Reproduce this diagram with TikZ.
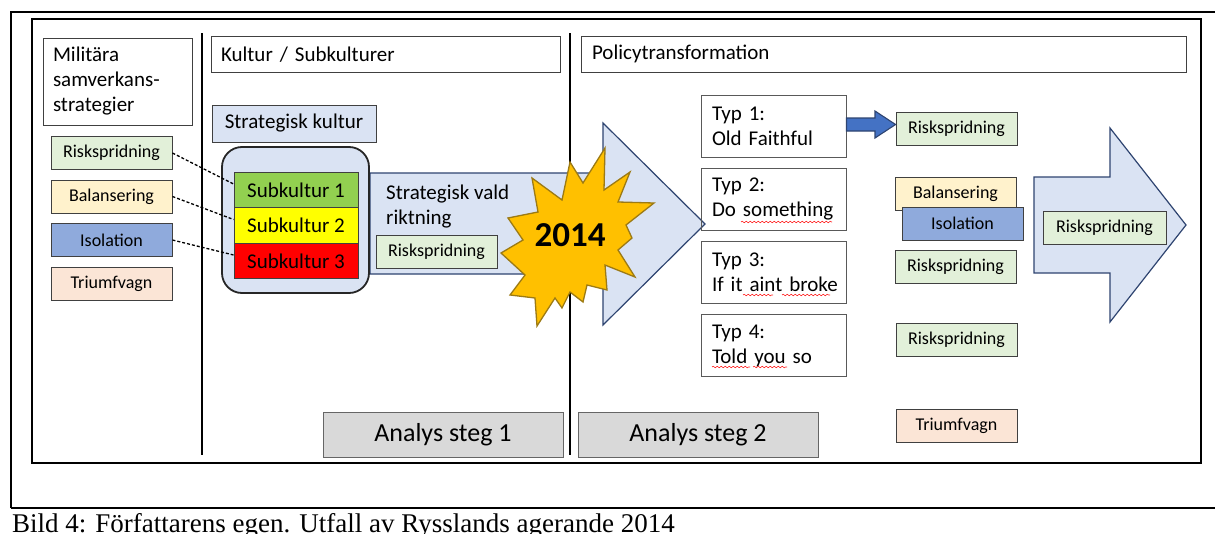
\documentclass[tikz,border=0pt]{standalone}
\usepackage{fontspec}
\setmainfont{Carlito}
\newfontfamily\captionfont{Liberation Serif}
\usepackage{tikz}
\usetikzlibrary{decorations.pathmorphing}
\definecolor{skblue}{HTML}{DAE3F3}
\definecolor{skedge}{HTML}{2E4470}
\definecolor{riskgreen}{HTML}{E2F0D9}
\definecolor{balyellow}{HTML}{FFF2CC}
\definecolor{isoblue}{HTML}{8FAADC}
\definecolor{tripeach}{HTML}{FBE5D6}
\definecolor{subgreen}{HTML}{92D050}
\definecolor{subyellow}{HTML}{FFFF00}
\definecolor{subred}{HTML}{FF0000}
\definecolor{stargold}{HTML}{FFC000}
\definecolor{staredge}{HTML}{9C7A14}
\definecolor{arrowblue}{HTML}{4472C4}
\definecolor{stepgray}{HTML}{D9D9D9}

\tikzset{
  plainbox/.style={draw=black!75, line width=0.9pt, inner sep=0pt},
  titlebox/.style={plainbox, font=\fontsize{21}{25}\selectfont, align=left},
  smallbox/.style={plainbox, minimum width=121pt, minimum height=33pt, font=\fontsize{18}{21}\selectfont},
  subbox/.style={plainbox, minimum width=124pt, minimum height=35.5pt, font=\fontsize{21}{25}\selectfont},
  typbox/.style={plainbox, draw=black!65, inner xsep=11pt, minimum width=145pt, minimum height=62pt, text width=123pt, align=left, font=\fontsize{21}{25}\selectfont},
  stepbox/.style={plainbox, draw=black!60, fill=stepgray, minimum width=240pt, minimum height=45pt, font=\fontsize{26}{30}\selectfont},
  blockarrow/.style={draw=skedge, line width=1.2pt, fill=skblue, line join=miter},
  connector/.style={line width=1.3pt, dash pattern=on 3pt off 2pt},
  squiggle/.style={red!85, line width=0.6pt, decorate, decoration={snake, amplitude=0.8pt, segment length=4pt}}
}

\begin{document}
\begin{tikzpicture}[x=1pt, y=-1pt]
\useasboundingbox (0,0) rectangle (1215,533);

% frames and columns
\draw[line width=1.6pt] (1216,12) -- (11,12) -- (11,508);
\draw[line width=2.6pt] (11,508) -- (1216,508);
\draw[line width=2pt] (32,19) rectangle (1201,463);
\draw[line width=1.5pt] (202,33) -- (202,455);
\draw[line width=1.5pt] (570,33) -- (570,455);

% column headings
\node[titlebox, minimum width=149pt, minimum height=87pt, text width=129pt] (mil) at (117.5,81.5) {Militära\\samverkans-\\strategier};
\node[titlebox, minimum width=349pt, minimum height=36pt, text width=329pt] (kultur) at (385.5,54.5) {Kultur / Subkulturer};
\node[titlebox, minimum width=605pt, minimum height=36pt, text width=583pt] (policy) at (883.5,54) {Policytransformation};

% left column strategies
\foreach \name/\txt/\col/\y in {lrisk/Riskspridning/riskgreen/153,
                               lbal/Balansering/balyellow/196.5,
                               liso/Isolation/isoblue/240,
                               ltri/Triumfvagn/tripeach/283.5}
    \node[smallbox, fill=\col] (\name) at (111.5,\y) {\txt};

% strategic direction arrow
\draw[blockarrow] (370,173) -- (603,173) -- (603,123) -- (705,224) -- (603,325) -- (603,274) -- (370,274) -- cycle;
\node[font=\fontsize{21}{25}\selectfont, align=left, anchor=north west, inner sep=0pt] (vald) at (386,185) {Strategisk vald\\riktning};
\node[smallbox, fill=riskgreen] (mrisk) at (436.5,251.5) {Riskspridning};

% culture and subcultures
\node[plainbox, fill=skblue, minimum width=164pt, minimum height=37pt, font=\fontsize{21}{25}\selectfont] (skultur) at (294,123.5) {Strategisk kultur};
\node[draw=black!85, line width=1.8pt, fill=skblue, rounded corners=20pt, minimum width=147pt, minimum height=146pt] (kulturbox) at (295.5,220) {};
\foreach \i/\col/\y in {1/subgreen/190, 2/subyellow/225.5, 3/subred/261}
    \node[subbox, fill=\col] (sub\i) at (296,\y) {Subkultur \i};
\foreach \a/\b in {lrisk/sub1, lbal/sub2, liso/sub3}
    \draw[connector] (\a.east) -- ([yshift=6pt]\b.west);

% 2014 explosion
\draw[fill=stargold, draw=staredge, line width=1.3pt, line join=miter]
  (570,162) -- (583,183) -- (605,148) -- (604,190) -- (630,172) -- (618,202)
  -- (654,203) -- (626,225) -- (632,238) -- (618,250) -- (635,277) -- (605,265)
  -- (607,290) -- (587,285) -- (583,302) -- (570,292) -- (562,308) -- (555,298)
  -- (537,326) -- (535,298) -- (510,295) -- (525,275) -- (501,253) -- (523,240)
  -- (508,218) -- (538,212) -- (532,178) -- (562,200) -- cycle;
\node[font=\fontsize{35}{40}\selectfont\bfseries] (year) at (570,235) {2014};

% policy types
\foreach \i/\y/\txt in {1/126/Old Faithful, 2/199/Do something, 3/272/If it aint broke, 4/345.5/Told you so}
    \node[typbox] (typ\i) at (773.5,\y) {Typ \i:\\\mbox{\txt}};
\draw[squiggle] (741,222) -- (832,222);
\draw[squiggle] (743,295) -- (773,295);
\draw[squiggle] (782,295) -- (830,295);
\draw[squiggle] (712,367) -- (750,367);
\draw[squiggle] (753,367) -- (787,367);

% outcomes
\node[smallbox, fill=riskgreen] (rrisk1) at (956.5,128.5) {Riskspridning};
\node[smallbox, fill=balyellow] (rbal) at (955.5,193.5) {Balansering};
\node[smallbox, fill=isoblue] (riso) at (962.5,223.5) {Isolation};
\node[smallbox, fill=riskgreen] (rrisk2) at (955.5,266.5) {Riskspridning};
\node[smallbox, fill=riskgreen] (rrisk3) at (956.5,340) {Riskspridning};
\node[smallbox, fill=tripeach] (rtri) at (956.5,425.5) {Triumfvagn};
\draw[fill=arrowblue, draw=skedge, line width=1.1pt, line join=miter]
  (typ1.east |- 0,118) -- (875,118) -- (875,111) -- (rrisk1.west |- 0,124.5) -- (875,138) -- (875,131) -- (typ1.east |- 0,131) -- cycle;

% result arrow
\draw[blockarrow] (1034,177) -- (1110,177) -- (1110,128) -- (1186,225) -- (1110,322) -- (1110,273) -- (1034,273) -- cycle;
\node[smallbox, fill=riskgreen, minimum width=123pt] (frisk) at (1104.5,227.5) {Riskspridning};

% analysis steps
\node[stepbox] (steg1) at (443,434.5) {Analys steg 1};
\node[stepbox] (steg2) at (698,434.5) {Analys steg 2};

\node[anchor=base west, inner sep=0pt, font=\captionfont\fontsize{27}{30}\selectfont] (caption) at (12,532) {Bild 4: Författarens egen. Utfall av Rysslands agerande 2014};
\end{tikzpicture}
\end{document}
